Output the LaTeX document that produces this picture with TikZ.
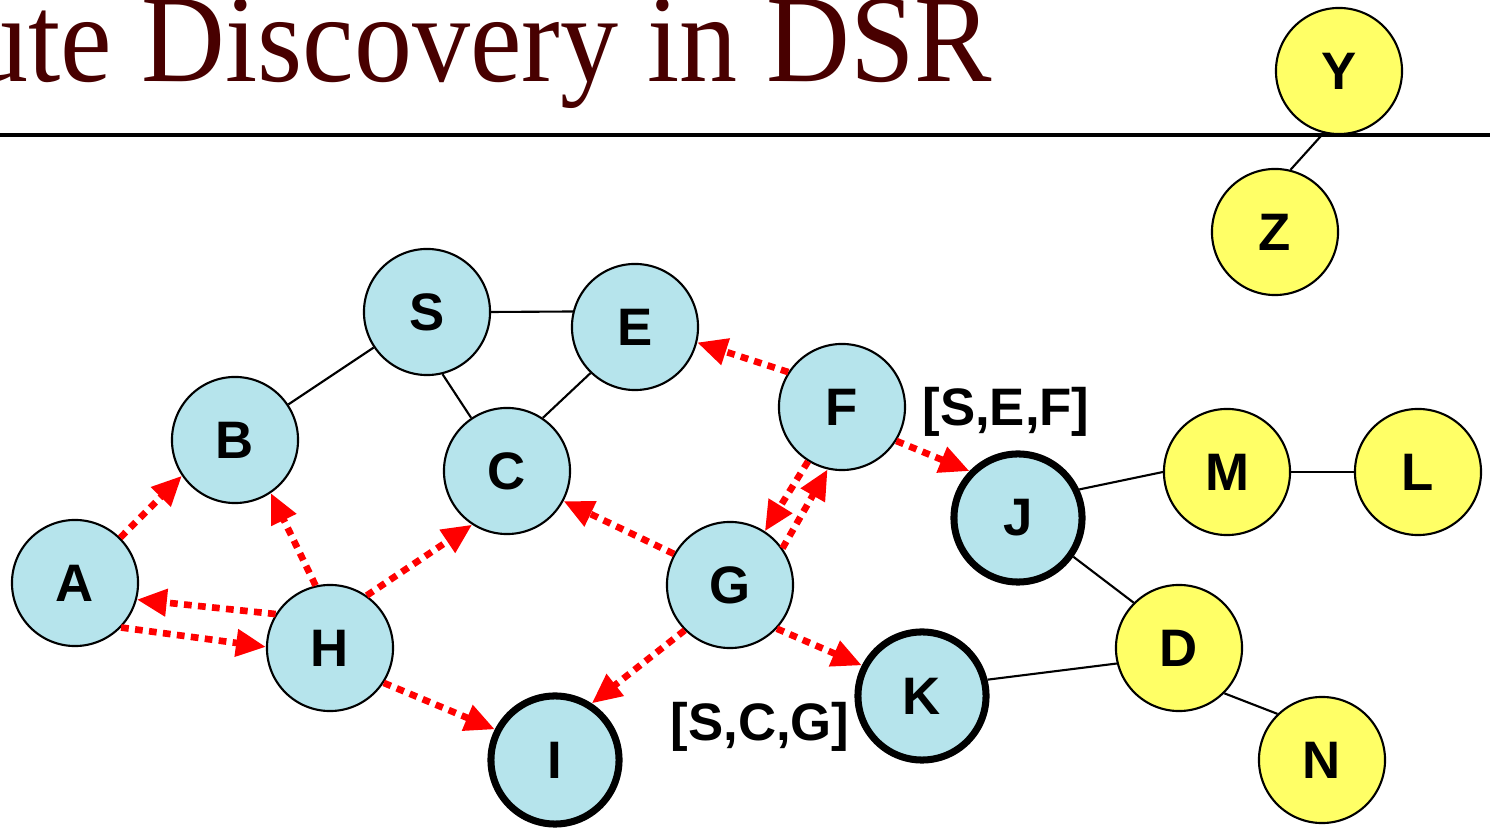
\documentclass[tikz,border=0pt]{standalone}
\usepackage{fontspec}
\setmainfont{Liberation Serif}
\setsansfont{Liberation Sans}
\usetikzlibrary{arrows.meta}
\definecolor{titlered}{RGB}{72,0,0}
\definecolor{hostblue}{RGB}{182,228,236}
\definecolor{hostyellow}{RGB}{255,255,102}
\definecolor{rreqred}{RGB}{255,0,0}

\begin{document}
\begin{tikzpicture}[
  x=0.01cm, y=-0.01cm,
  host/.style={
    circle, draw=black, line width=0.6pt,
    minimum size=1.26cm, inner sep=0pt, fill=hostblue,
    font=\sffamily\bfseries\fontsize{15}{15}\selectfont
  },
  target/.style={host, line width=2pt, minimum size=1.28cm},
  far/.style={host, fill=hostyellow},
  link/.style={line width=0.6pt},
  rreq/.style={
    -{Triangle[length=8.5pt, width=7.5pt]},
    draw=rreqred, line width=1.9pt, dash pattern=on 2.2pt off 1.8pt
  },
  route/.style={font=\sffamily\bfseries\fontsize{15}{15}\selectfont}
]
\useasboundingbox (0,0) rectangle (1490,828);

% ── Title and rule ──
\node[anchor=base east, inner sep=0pt, text=titlered, yscale=1.08, transform shape,
  font=\fontsize{33}{33}\selectfont] (title) at (993,82) {Route Discovery in DSR};
\draw[line width=1pt] (0,135) -- (1490,135);

% ── Hosts ──
\node[host] (S) at (427,312) {S};
\node[host] (E) at (635,327) {E};
\node[host] (B) at (235,440) {B};
\node[host] (C) at (507,471) {C};
\node[host] (F) at (842,407) {F};
\node[host] (A) at (75,583) {A};
\node[host] (H) at (330,648) {H};
\node[host] (G) at (730,585) {G};
\node[target] (I) at (555,760) {I};
\node[target] (K) at (922,696) {K};
\node[target] (J) at (1018,518) {J};

\node[far] (Y) at (1339,71) {Y};
\node[far] (Z) at (1275,232) {Z};
\node[far] (M) at (1227,472) {M};
\node[far] (L) at (1418,472) {L};
\node[far] (D) at (1179,648) {D};
\node[far] (N) at (1322,760) {N};

% ── Route records ──
\node[route] (sef) at (1006,412) {[S,E,F]};
\node[route] (scg) at (760,727) {[S,C,G]};

% ── Links ──
\draw[link] (S.east) -- (E.166);
\draw[link] (S) -- (B);
\draw[link] (S.-76) -- (C.124);
\draw[link] (E.226) -- (C.56);
\draw[link] (Y.256) -- (Z.76);
\draw[link] (J.25) -- (M.west);
\draw[link] (M) -- (L);
\draw[link] (J.-35) -- (D.135);
\draw[link] (K.14) -- (D.194);
\draw[link] (D.-45) -- (N.134);

% ── Route requests ──
\draw[rreq] (A.45) -- (B.214);
\draw[rreq] (A.-44) -- (H.179);
\draw[rreq] (H.148) -- (A.-15);
\draw[rreq] (H.103) -- (B.-56);
\draw[rreq] (H.55) -- (C.237);
\draw[rreq] (H.-33) -- (I.153);
\draw[rreq] (G.151) -- (C.-28);
\draw[rreq] (G.225) -- (I.57);
\draw[rreq] (G.-43) -- (K.153);
\draw[rreq] (G.35) -- (F.257);
\draw[rreq] (F.238) -- (G.57);
\draw[rreq] (F.147) -- (E.-14);
\draw[rreq] (F.-32) -- (J.136);

\end{tikzpicture}
\end{document}
